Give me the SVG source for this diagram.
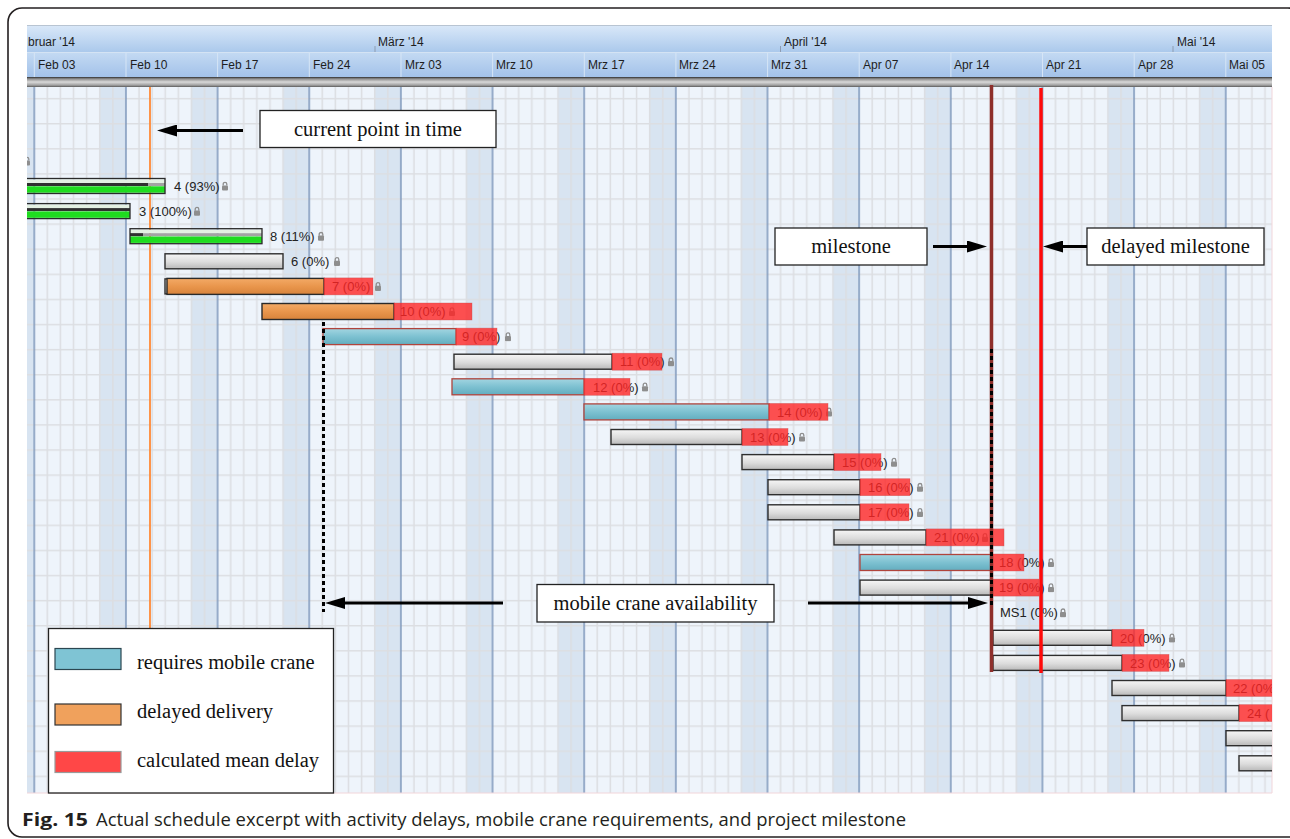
<svg xmlns="http://www.w3.org/2000/svg" width="1290" height="839" viewBox="0 0 1290 839">
  <defs>
    <linearGradient id="monthBand" x1="0" y1="0" x2="0" y2="1">
      <stop offset="0" stop-color="#d8e7f8"/>
      <stop offset="1" stop-color="#abc9ec"/>
    </linearGradient>
    <linearGradient id="weekBand" x1="0" y1="0" x2="0" y2="1">
      <stop offset="0" stop-color="#c4daf3"/>
      <stop offset="1" stop-color="#a3c2e9"/>
    </linearGradient>
    <linearGradient id="sep" x1="0" y1="0" x2="0" y2="1">
      <stop offset="0" stop-color="#2e2e2e"/>
      <stop offset="0.18" stop-color="#8c8c8c"/>
      <stop offset="0.5" stop-color="#d9d9d9"/>
      <stop offset="0.82" stop-color="#a0a0a0"/>
      <stop offset="1" stop-color="#5a5a5a"/>
    </linearGradient>
    <linearGradient id="gGray" x1="0" y1="0" x2="0" y2="1">
      <stop offset="0" stop-color="#f6f6f6"/>
      <stop offset="0.55" stop-color="#dcdcdc"/>
      <stop offset="1" stop-color="#b9b9b9"/>
    </linearGradient>
    <linearGradient id="gBlue" x1="0" y1="0" x2="0" y2="1">
      <stop offset="0" stop-color="#a2d5e1"/>
      <stop offset="0.5" stop-color="#7dc1d1"/>
      <stop offset="1" stop-color="#63adbf"/>
    </linearGradient>
    <linearGradient id="gOrange" x1="0" y1="0" x2="0" y2="1">
      <stop offset="0" stop-color="#f3aa66"/>
      <stop offset="0.5" stop-color="#e9964c"/>
      <stop offset="1" stop-color="#d8833b"/>
    </linearGradient>

    <!-- one week of the time grid: weekday cells, weekend band, day lines, row line, week line -->
    <pattern id="grid" patternUnits="userSpaceOnUse" x="33.3" y="97.9" width="91.65" height="25.1">
      <rect width="91.65" height="25.1" fill="#eef4fb"/>
      <rect x="66.46" width="25.19" height="25.1" fill="#d8e4f1"/>
      <rect x="0" width="1.2" height="25.1" fill="#d8e4f1"/>
      <path d="M14.09 0V25.1M27.19 0V25.1M40.28 0V25.1M53.37 0V25.1M66.47 0V25.1M79.56 0V25.1" stroke="#dcdee2" stroke-width="1.5"/>
      <path d="M0 0.8H91.65" stroke="#dcdee2" stroke-width="1.5"/>
      <path d="M1 0V25.1" stroke="#7d97bb" stroke-width="1.5"/>
    </pattern>

    <clipPath id="body">
      <rect x="27" y="87" width="1245" height="706"/>
    </clipPath>

    <marker id="head" viewBox="0 0 20 12" markerWidth="20" markerHeight="12" markerUnits="userSpaceOnUse" refX="10" refY="6" orient="auto">
      <path d="M0 0L20 6L0 12z" fill="#000"/>
    </marker>

    <symbol id="lock" viewBox="0 0 8 10" width="8" height="10">
      <path d="M2.2 4.6V3.1A1.8 1.8 0 0 1 5.8 3.1V4.6" fill="none" stroke="#8e8e8e" stroke-width="1.3"/>
      <rect x="1" y="4.4" width="6" height="5.2" rx="1" fill="#8e8e8e"/>
    </symbol>
  </defs>

  <style>
    .hdr{font-family:"Liberation Sans",Arial,sans-serif;font-size:12px;fill:#1e1e1e}
    .lbl{font-family:"Liberation Sans",Arial,sans-serif;font-size:13px;fill:#222}
    .note{font-family:"Liberation Serif","Times New Roman",serif;font-size:20.5px;fill:#111;text-anchor:middle}
    .leg{font-family:"Liberation Serif","Times New Roman",serif;font-size:20.5px;fill:#111}
    .box{fill:#fff;stroke:#222;stroke-width:1.3}
    .gray{fill:url(#gGray);stroke:#2e2e2e;stroke-width:1.4}
    .blue{fill:url(#gBlue);stroke:#b0443c;stroke-width:1.3}
    .orange{fill:url(#gOrange);stroke:#2a2a2a;stroke-width:1.4}
    .delay{fill:#ff2626;fill-opacity:0.8;stroke:#c85050;stroke-width:0.6;stroke-opacity:0.6}
    .gframe{fill:none;stroke:#2a2a2a;stroke-width:1.3}
    .gtop{fill:#e3f0e3}
    .gstripe{fill:#a3a3a3}
    .gprog{fill:#303030}
    .ggreen{fill:#1fdc1f}
    .arrow{stroke:#000;stroke-width:3;fill:none;marker-end:url(#head)}
    .dots{stroke:#000;stroke-width:3;stroke-dasharray:4 3;fill:none}
    .cap{font-family:"Open Sans","Noto Sans","Liberation Sans",sans-serif;font-size:18px;fill:#231f20}
  </style>

  <!-- page frame -->
  <rect x="8" y="8" width="1294" height="829" rx="14" fill="#fff" stroke="#231f20" stroke-width="1.6"/>

  <!-- timeline header -->
  <g id="header">
    <rect x="27" y="25" width="1245" height="1" fill="#b8c4d2"/>
    <rect x="27" y="26" width="1245" height="26" fill="url(#monthBand)"/>
    <rect x="27" y="52" width="1245" height="25" fill="url(#weekBand)"/>
    <path d="M27 52.5H1272" stroke="#d4e3f4" stroke-width="1"/>
    <path d="M34.3 53V77M126 53V77M217.6 53V77M309.3 53V77M401 53V77M492.6 53V77M584.3 53V77M675.9 53V77M767.6 53V77M859.2 53V77M950.9 53V77M1042.5 53V77M1134.2 53V77M1225.8 53V77" stroke="#d6e5f6" stroke-width="1"/>
    <path d="M375 46V52M780.5 46V52M1173 46V52" stroke="#8d9cb1" stroke-width="1"/>
    <text class="hdr" x="28" y="45.5">bruar '14</text>
    <text class="hdr" x="378" y="45.5">März '14</text>
    <text class="hdr" x="784" y="45.5">April '14</text>
    <text class="hdr" x="1177" y="45.5">Mai '14</text>
    <text class="hdr" x="38" y="69">Feb 03</text>
    <text class="hdr" x="130" y="69">Feb 10</text>
    <text class="hdr" x="221" y="69">Feb 17</text>
    <text class="hdr" x="313" y="69">Feb 24</text>
    <text class="hdr" x="405" y="69">Mrz 03</text>
    <text class="hdr" x="496" y="69">Mrz 10</text>
    <text class="hdr" x="588" y="69">Mrz 17</text>
    <text class="hdr" x="679" y="69">Mrz 24</text>
    <text class="hdr" x="771" y="69">Mrz 31</text>
    <text class="hdr" x="863" y="69">Apr 07</text>
    <text class="hdr" x="954" y="69">Apr 14</text>
    <text class="hdr" x="1046" y="69">Apr 21</text>
    <text class="hdr" x="1138" y="69">Apr 28</text>
    <text class="hdr" x="1229" y="69">Mai 05</text>
    <rect x="27" y="77" width="1245" height="10" fill="url(#sep)"/>
  </g>

  <!-- chart body -->
  <rect x="27" y="87" width="1245" height="706" fill="url(#grid)"/>
  <path d="M27 793H1272V87" fill="none" stroke="#f2d6da" stroke-width="1"/>
  <path d="M150 87V793" stroke="#ff8a36" stroke-width="1.8"/>

  <g clip-path="url(#body)">
    <use href="#lock" x="23" y="156"/>

    <g id="task-4">
      <rect class="gtop" x="20" y="179.5" width="145" height="3.5"/>
      <rect class="gstripe" x="20" y="183" width="145" height="3"/>
      <rect class="gprog" x="20" y="183" width="128" height="3"/>
      <rect class="ggreen" x="20" y="186.3" width="145" height="6.4"/>
      <rect class="gframe" x="20" y="178.5" width="145" height="15"/>
      <text class="lbl" x="174" y="190.7">4 (93%)</text>
      <use href="#lock" x="221" y="181"/>
    </g>
    <g id="task-3">
      <rect class="gtop" x="20" y="204.6" width="110" height="3.5"/>
      <rect class="gprog" x="20" y="208.1" width="110" height="3"/>
      <rect class="ggreen" x="20" y="211.4" width="110" height="6.4"/>
      <rect class="gframe" x="20" y="203.6" width="110" height="15"/>
      <text class="lbl" x="139" y="215.8">3 (100%)</text>
      <use href="#lock" x="193" y="206.1"/>
    </g>
    <g id="task-8">
      <rect class="gtop" x="130" y="229.7" width="132" height="3.5"/>
      <rect class="gstripe" x="130" y="233.2" width="132" height="3"/>
      <rect class="gprog" x="130" y="233.2" width="13" height="3"/>
      <rect class="ggreen" x="130" y="236.5" width="132" height="6.4"/>
      <rect class="gframe" x="130" y="228.7" width="132" height="15"/>
      <text class="lbl" x="270" y="240.9">8 (11%)</text>
      <use href="#lock" x="317" y="231.2"/>
    </g>
    <g id="task-6">
      <rect class="gray" x="165" y="253.8" width="118" height="15"/>
      <text class="lbl" x="291" y="266">6 (0%)</text>
      <use href="#lock" x="333" y="256.3"/>
    </g>
    <g id="task-7">
      <rect class="gray" x="165" y="278.9" width="4" height="15"/>
      <rect class="orange" x="167" y="278.4" width="157" height="16"/>
      <text class="lbl" x="332" y="291.1">7 (0%)</text>
      <use href="#lock" x="374" y="281.4"/>
      <rect class="delay" x="324" y="277.9" width="49" height="17"/>
    </g>
    <g id="task-10">
      <rect class="orange" x="262" y="303.5" width="132" height="16"/>
      <text class="lbl" x="400" y="316.2">10 (0%)</text>
      <use href="#lock" x="448" y="306.5"/>
      <rect class="delay" x="394" y="303" width="78" height="17"/>
    </g>
    <g id="task-9">
      <rect class="blue" x="323" y="328.6" width="133" height="16"/>
      <text class="lbl" x="462" y="341.3">9 (0%)</text>
      <use href="#lock" x="504" y="331.6"/>
      <rect class="delay" x="456" y="328.1" width="41" height="17"/>
    </g>
    <g id="task-11">
      <rect class="gray" x="454" y="354.2" width="158" height="15"/>
      <text class="lbl" x="620" y="366.4">11 (0%)</text>
      <use href="#lock" x="667" y="356.7"/>
      <rect class="delay" x="612" y="353.2" width="50" height="17"/>
    </g>
    <g id="task-12">
      <rect class="blue" x="452" y="378.8" width="132" height="16"/>
      <text class="lbl" x="593" y="391.5">12 (0%)</text>
      <use href="#lock" x="641" y="381.8"/>
      <rect class="delay" x="584" y="378.3" width="46" height="17"/>
    </g>
    <g id="task-14">
      <rect class="blue" x="584" y="403.9" width="185" height="16"/>
      <text class="lbl" x="777" y="416.6">14 (0%)</text>
      <use href="#lock" x="825" y="406.9"/>
      <rect class="delay" x="769" y="403.4" width="59" height="17"/>
    </g>
    <g id="task-13">
      <rect class="gray" x="611" y="429.5" width="131" height="15"/>
      <text class="lbl" x="750" y="441.7">13 (0%)</text>
      <use href="#lock" x="798" y="432"/>
      <rect class="delay" x="742" y="428.5" width="46" height="17"/>
    </g>
    <g id="task-15">
      <rect class="gray" x="742" y="454.6" width="92" height="15"/>
      <text class="lbl" x="842" y="466.8">15 (0%)</text>
      <use href="#lock" x="890" y="457.1"/>
      <rect class="delay" x="834" y="453.6" width="47" height="17"/>
    </g>
    <g id="task-16">
      <rect class="gray" x="768" y="479.7" width="92" height="15"/>
      <text class="lbl" x="868" y="491.9">16 (0%)</text>
      <use href="#lock" x="916" y="482.2"/>
      <rect class="delay" x="860" y="478.7" width="50" height="17"/>
    </g>
    <g id="task-17">
      <rect class="gray" x="768" y="504.8" width="92" height="15"/>
      <text class="lbl" x="868" y="517">17 (0%)</text>
      <use href="#lock" x="916" y="507.3"/>
      <rect class="delay" x="860" y="503.8" width="49" height="17"/>
    </g>
    <g id="task-21">
      <rect class="gray" x="834" y="529.9" width="92" height="15"/>
      <text class="lbl" x="934" y="542.1">21 (0%)</text>
      <use href="#lock" x="981" y="532.4"/>
      <rect class="delay" x="926" y="528.9" width="78" height="17"/>
    </g>
    <g id="task-18">
      <rect class="blue" x="860" y="554.5" width="131" height="16"/>
      <text class="lbl" x="999" y="567.2">18 (0%)</text>
      <use href="#lock" x="1047" y="557.5"/>
      <rect class="delay" x="991" y="554" width="33" height="17"/>
    </g>
    <g id="task-19">
      <rect class="gray" x="860" y="580.1" width="131" height="15"/>
      <text class="lbl" x="999" y="592.3">19 (0%)</text>
      <use href="#lock" x="1047" y="582.6"/>
      <rect class="delay" x="991" y="579.1" width="48" height="17"/>
    </g>
    <g id="ms1">
      <text class="lbl" x="1000" y="617.4">MS1 (0%)</text>
      <use href="#lock" x="1059" y="607.7"/>
    </g>
    <g id="task-20">
      <rect class="gray" x="993" y="630.3" width="119" height="15"/>
      <text class="lbl" x="1120" y="642.5">20 (0%)</text>
      <use href="#lock" x="1168" y="632.8"/>
      <rect class="delay" x="1112" y="629.3" width="32" height="17"/>
    </g>
    <g id="task-23">
      <rect class="gray" x="993" y="655.4" width="129" height="15"/>
      <text class="lbl" x="1130" y="667.6">23 (0%)</text>
      <use href="#lock" x="1178" y="657.9"/>
      <rect class="delay" x="1122" y="654.4" width="47" height="17"/>
    </g>
    <g id="task-22">
      <rect class="gray" x="1112" y="680.5" width="114" height="15"/>
      <text class="lbl" x="1233" y="692.7">22 (0%</text>
      <rect class="delay" x="1226" y="679.5" width="60" height="17"/>
    </g>
    <g id="task-24">
      <rect class="gray" x="1122" y="705.6" width="117" height="15"/>
      <text class="lbl" x="1247" y="717.8">24 (</text>
      <rect class="delay" x="1239" y="704.6" width="60" height="17"/>
    </g>
    <g id="task-25">
      <rect class="gray" x="1226" y="730.7" width="60" height="15"/>
    </g>
    <g id="task-26">
      <rect class="gray" x="1239" y="755.8" width="60" height="15"/>
    </g>
  </g>

  <!-- milestone lines and crane availability marks -->
  <g id="milestones">
    <path d="M991.5 85V672" stroke="#8e2f2b" stroke-width="3.5"/>
    <path d="M1041 88V673" stroke="#ff0a0a" stroke-width="3.5"/>
    <path class="dots" d="M323.5 322V612"/>
    <path class="dots" d="M991.5 349V607"/>
  </g>

  <!-- callouts -->
  <g id="note-current">
    <rect class="box" x="260" y="110.5" width="236" height="37"/>
    <text class="note" x="378" y="135.5">current point in time</text>
  </g>
  <g id="note-milestone">
    <rect class="box" x="775" y="228" width="152" height="37"/>
    <text class="note" x="851" y="253">milestone</text>
  </g>
  <g id="note-delayed">
    <rect class="box" x="1087" y="228" width="177" height="37"/>
    <text class="note" x="1175.5" y="253">delayed milestone</text>
  </g>
  <g id="note-crane">
    <rect class="box" x="537" y="584.5" width="237" height="37.5"/>
    <text class="note" x="655.5" y="610">mobile crane availability</text>
  </g>

  <g id="connectors">
    <line class="arrow" x1="243" y1="130.5" x2="167" y2="130.5"/>
    <line class="arrow" x1="933" y1="246.5" x2="977" y2="246.5"/>
    <line class="arrow" x1="1087" y1="246.5" x2="1053" y2="246.5"/>
    <line class="arrow" x1="503" y1="603" x2="335" y2="603"/>
    <line class="arrow" x1="808" y1="603" x2="978" y2="603"/>
  </g>

  <!-- legend -->
  <g id="legend">
    <rect class="box" x="48.5" y="628.5" width="285" height="164.5"/>
    <rect x="55" y="648.5" width="66" height="21" fill="#7fc4d4" stroke="#2b4650" stroke-width="1.2"/>
    <text class="leg" x="137" y="668.5">requires mobile crane</text>
    <rect x="55" y="704" width="66" height="21" fill="#f0a15c" stroke="#333" stroke-width="1.2"/>
    <text class="leg" x="137" y="718">delayed delivery</text>
    <rect x="55" y="751.5" width="66" height="21" fill="#ff4747" stroke="#9a9a9a" stroke-width="1.2"/>
    <text class="leg" x="137" y="766.5">calculated mean delay</text>
  </g>

  <!-- caption -->
  <g id="caption">
    <text class="cap" x="22" y="826" font-weight="bold" textLength="66" lengthAdjust="spacingAndGlyphs">Fig. 15</text>
    <text class="cap" x="96" y="826" textLength="810" lengthAdjust="spacingAndGlyphs">Actual schedule excerpt with activity delays, mobile crane requirements, and project milestone</text>
  </g>
</svg>
